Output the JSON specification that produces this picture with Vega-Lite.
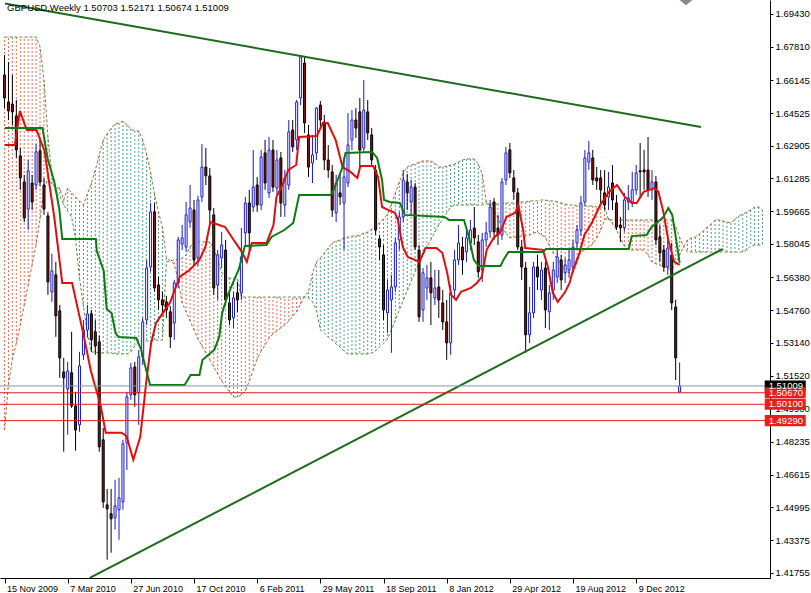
{
"$schema":"https://vega.github.io/schema/vega-lite/v6.json",
"width":770,"height":578,
"autosize":{"type":"none"},
"padding":{"left":0,"top":0,"right":41,"bottom":15},
"background":"white",
"config":{"view":{"stroke":null},"font":"Liberation Sans","axis":{"labelOverlap":false,"labelBound":false,"labelFlush":false,"grid":false,"title":null}},
"datasets":{
"candles":[
{"w":0,"o":1.6641,"h":1.6740,"l":1.6477,"c":1.6527},{"w":1,"o":1.6507,"h":1.6705,"l":1.6418,"c":1.6463},{"w":2,"o":1.6497,"h":1.6641,"l":1.6393,"c":1.6458},{"w":3,"o":1.6438,"h":1.6517,"l":1.6230,"c":1.6270},{"w":4,"o":1.6240,"h":1.6279,"l":1.6072,"c":1.6131},{"w":5,"o":1.6111,"h":1.6146,"l":1.5913,"c":1.5933},{"w":6,"o":1.5977,"h":1.6220,"l":1.5874,"c":1.6166},{"w":7,"o":1.6106,"h":1.6146,"l":1.5972,"c":1.6012},{"w":8,"o":1.6096,"h":1.6299,"l":1.6072,"c":1.6260},{"w":9,"o":1.6265,"h":1.6319,"l":1.6091,"c":1.6111},
{"w":10,"o":1.6096,"h":1.6131,"l":1.5948,"c":1.5977},{"w":11,"o":1.5943,"h":1.5963,"l":1.5552,"c":1.5616},{"w":12,"o":1.5567,"h":1.5755,"l":1.5517,"c":1.5671},{"w":13,"o":1.5651,"h":1.5715,"l":1.5344,"c":1.5448},{"w":14,"o":1.5473,"h":1.5502,"l":1.5141,"c":1.5240},{"w":15,"o":1.5170,"h":1.5240,"l":1.4775,"c":1.5141},{"w":16,"o":1.5086,"h":1.5220,"l":1.4859,"c":1.5175},{"w":17,"o":1.5166,"h":1.5369,"l":1.4992,"c":1.5002},{"w":18,"o":1.5002,"h":1.5072,"l":1.4780,"c":1.4883},{"w":19,"o":1.4908,"h":1.5270,"l":1.4874,"c":1.5200},
{"w":20,"o":1.5255,"h":1.5428,"l":1.5230,"c":1.5378},{"w":21,"o":1.5378,"h":1.5502,"l":1.5339,"c":1.5458},{"w":22,"o":1.5458,"h":1.5477,"l":1.5270,"c":1.5329},{"w":23,"o":1.5369,"h":1.5428,"l":1.5255,"c":1.5299},{"w":24,"o":1.5319,"h":1.5349,"l":1.4775,"c":1.4799},{"w":25,"o":1.4834,"h":1.4893,"l":1.4497,"c":1.4527},{"w":26,"o":1.4512,"h":1.4591,"l":1.4240,"c":1.4492},{"w":27,"o":1.4468,"h":1.4591,"l":1.4275,"c":1.4443},{"w":28,"o":1.4448,"h":1.4636,"l":1.4389,"c":1.4507},{"w":29,"o":1.4488,"h":1.4646,"l":1.4339,"c":1.4547},
{"w":30,"o":1.4527,"h":1.4834,"l":1.4488,"c":1.4814},{"w":31,"o":1.4819,"h":1.5072,"l":1.4685,"c":1.5047},{"w":32,"o":1.5057,"h":1.5215,"l":1.5032,"c":1.5190},{"w":33,"o":1.5195,"h":1.5220,"l":1.4997,"c":1.5057},{"w":34,"o":1.5067,"h":1.5279,"l":1.4908,"c":1.5245},{"w":35,"o":1.5245,"h":1.5438,"l":1.5205,"c":1.5418},{"w":36,"o":1.5428,"h":1.5725,"l":1.5403,"c":1.5685},{"w":37,"o":1.5690,"h":1.6007,"l":1.5666,"c":1.5963},{"w":38,"o":1.5963,"h":1.6007,"l":1.5567,"c":1.5586},{"w":39,"o":1.5601,"h":1.5641,"l":1.5477,"c":1.5527},
{"w":40,"o":1.5527,"h":1.5567,"l":1.5458,"c":1.5502},{"w":41,"o":1.5517,"h":1.5547,"l":1.5438,"c":1.5477},{"w":42,"o":1.5468,"h":1.5497,"l":1.5289,"c":1.5344},{"w":43,"o":1.5413,"h":1.5626,"l":1.5329,"c":1.5611},{"w":44,"o":1.5611,"h":1.5839,"l":1.5586,"c":1.5824},{"w":45,"o":1.5804,"h":1.5898,"l":1.5774,"c":1.5834},{"w":46,"o":1.5789,"h":1.6012,"l":1.5765,"c":1.5948},{"w":47,"o":1.5913,"h":1.6096,"l":1.5884,"c":1.5982},{"w":48,"o":1.5972,"h":1.6022,"l":1.5695,"c":1.5725},{"w":49,"o":1.5735,"h":1.6042,"l":1.5695,"c":1.6022},
{"w":50,"o":1.6037,"h":1.6299,"l":1.6012,"c":1.6185},{"w":51,"o":1.6185,"h":1.6279,"l":1.6096,"c":1.6141},{"w":52,"o":1.6141,"h":1.6180,"l":1.5913,"c":1.5972},{"w":53,"o":1.5948,"h":1.5982,"l":1.5552,"c":1.5586},{"w":54,"o":1.5601,"h":1.5774,"l":1.5527,"c":1.5750},{"w":55,"o":1.5735,"h":1.5863,"l":1.5685,"c":1.5799},{"w":56,"o":1.5774,"h":1.5824,"l":1.5502,"c":1.5527},{"w":57,"o":1.5512,"h":1.5576,"l":1.5403,"c":1.5428},{"w":58,"o":1.5438,"h":1.5567,"l":1.5388,"c":1.5537},{"w":59,"o":1.5562,"h":1.5616,"l":1.5468,"c":1.5527},
{"w":60,"o":1.5562,"h":1.5883,"l":1.5527,"c":1.5740},{"w":61,"o":1.5859,"h":1.6037,"l":1.5799,"c":1.6007},{"w":62,"o":1.6007,"h":1.6072,"l":1.5760,"c":1.5859},{"w":63,"o":1.5987,"h":1.6269,"l":1.5963,"c":1.6086},{"w":64,"o":1.6096,"h":1.6136,"l":1.5963,"c":1.5997},{"w":65,"o":1.5997,"h":1.6269,"l":1.5972,"c":1.6235},{"w":66,"o":1.6255,"h":1.6319,"l":1.6072,"c":1.6106},{"w":67,"o":1.6057,"h":1.6334,"l":1.6032,"c":1.6269},{"w":68,"o":1.6269,"h":1.6319,"l":1.6062,"c":1.6086},{"w":69,"o":1.6081,"h":1.6269,"l":1.6047,"c":1.6220},
{"w":70,"o":1.6230,"h":1.6260,"l":1.5938,"c":1.6007},{"w":71,"o":1.5997,"h":1.6170,"l":1.5938,"c":1.6131},{"w":72,"o":1.6096,"h":1.6418,"l":1.6072,"c":1.6359},{"w":73,"o":1.6368,"h":1.6418,"l":1.6260,"c":1.6285},{"w":74,"o":1.6319,"h":1.6517,"l":1.6269,"c":1.6507},{"w":75,"o":1.6527,"h":1.6740,"l":1.6492,"c":1.6730},{"w":76,"o":1.6700,"h":1.6730,"l":1.6354,"c":1.6403},{"w":77,"o":1.6344,"h":1.6393,"l":1.6136,"c":1.6185},{"w":78,"o":1.6205,"h":1.6344,"l":1.6106,"c":1.6245},{"w":79,"o":1.6255,"h":1.6482,"l":1.6220,"c":1.6477},
{"w":80,"o":1.6492,"h":1.6512,"l":1.6383,"c":1.6418},{"w":81,"o":1.6408,"h":1.6443,"l":1.6170,"c":1.6220},{"w":82,"o":1.6220,"h":1.6294,"l":1.6131,"c":1.6170},{"w":83,"o":1.6161,"h":1.6195,"l":1.5938,"c":1.5972},{"w":84,"o":1.5958,"h":1.6146,"l":1.5913,"c":1.6106},{"w":85,"o":1.6057,"h":1.6146,"l":1.5997,"c":1.6037},{"w":86,"o":1.6007,"h":1.6235,"l":1.5774,"c":1.6136},{"w":87,"o":1.6106,"h":1.6453,"l":1.6086,"c":1.6294},{"w":88,"o":1.6319,"h":1.6467,"l":1.6269,"c":1.6418},{"w":89,"o":1.6418,"h":1.6477,"l":1.6329,"c":1.6378},
{"w":90,"o":1.6458,"h":1.6527,"l":1.6180,"c":1.6269},{"w":91,"o":1.6279,"h":1.6616,"l":1.6260,"c":1.6467},{"w":92,"o":1.6458,"h":1.6517,"l":1.6319,"c":1.6354},{"w":93,"o":1.6344,"h":1.6378,"l":1.6195,"c":1.6220},{"w":94,"o":1.6170,"h":1.6195,"l":1.5849,"c":1.5873},{"w":95,"o":1.5829,"h":1.5849,"l":1.5725,"c":1.5789},{"w":96,"o":1.5750,"h":1.5799,"l":1.5428,"c":1.5477},{"w":97,"o":1.5463,"h":1.5626,"l":1.5364,"c":1.5576},{"w":98,"o":1.5527,"h":1.5651,"l":1.5265,"c":1.5591},{"w":99,"o":1.5591,"h":1.5834,"l":1.5567,"c":1.5809},
{"w":100,"o":1.5824,"h":1.5963,"l":1.5774,"c":1.5938},{"w":101,"o":1.5938,"h":1.6170,"l":1.5913,"c":1.6121},{"w":102,"o":1.6111,"h":1.6151,"l":1.5972,"c":1.6057},{"w":103,"o":1.6012,"h":1.6121,"l":1.5948,"c":1.6086},{"w":104,"o":1.6086,"h":1.6106,"l":1.5774,"c":1.5789},{"w":105,"o":1.5774,"h":1.5799,"l":1.5418,"c":1.5443},{"w":106,"o":1.5477,"h":1.5685,"l":1.5418,"c":1.5661},{"w":107,"o":1.5586,"h":1.5700,"l":1.5527,"c":1.5636},{"w":108,"o":1.5636,"h":1.5715,"l":1.5403,"c":1.5562},{"w":109,"o":1.5537,"h":1.5675,"l":1.5502,"c":1.5586},
{"w":110,"o":1.5591,"h":1.5675,"l":1.5438,"c":1.5527},{"w":111,"o":1.5512,"h":1.5576,"l":1.5378,"c":1.5418},{"w":112,"o":1.5418,"h":1.5527,"l":1.5230,"c":1.5314},{"w":113,"o":1.5314,"h":1.5601,"l":1.5255,"c":1.5562},{"w":114,"o":1.5576,"h":1.5774,"l":1.5537,"c":1.5725},{"w":115,"o":1.5725,"h":1.5898,"l":1.5700,"c":1.5809},{"w":116,"o":1.5789,"h":1.5839,"l":1.5651,"c":1.5725},{"w":117,"o":1.5765,"h":1.5873,"l":1.5715,"c":1.5834},{"w":118,"o":1.5809,"h":1.5923,"l":1.5774,"c":1.5873},{"w":119,"o":1.5883,"h":1.5987,"l":1.5799,"c":1.5834},
{"w":120,"o":1.5814,"h":1.5849,"l":1.5636,"c":1.5666},{"w":121,"o":1.5675,"h":1.5859,"l":1.5616,"c":1.5824},{"w":122,"o":1.5824,"h":1.5913,"l":1.5789,"c":1.5859},{"w":123,"o":1.5864,"h":1.6022,"l":1.5834,"c":1.5987},{"w":124,"o":1.6012,"h":1.6032,"l":1.5824,"c":1.5864},{"w":125,"o":1.5883,"h":1.5948,"l":1.5799,"c":1.5849},{"w":126,"o":1.5849,"h":1.6131,"l":1.5824,"c":1.6111},{"w":127,"o":1.6121,"h":1.6284,"l":1.6096,"c":1.6255},{"w":128,"o":1.6270,"h":1.6304,"l":1.6131,"c":1.6156},{"w":129,"o":1.6131,"h":1.6170,"l":1.6022,"c":1.6062},
{"w":130,"o":1.6057,"h":1.6081,"l":1.5774,"c":1.5789},{"w":131,"o":1.5789,"h":1.5824,"l":1.5626,"c":1.5690},{"w":132,"o":1.5685,"h":1.5715,"l":1.5265,"c":1.5354},{"w":133,"o":1.5354,"h":1.5591,"l":1.5314,"c":1.5463},{"w":134,"o":1.5463,"h":1.5715,"l":1.5438,"c":1.5690},{"w":135,"o":1.5690,"h":1.5750,"l":1.5576,"c":1.5641},{"w":136,"o":1.5576,"h":1.5715,"l":1.5527,"c":1.5675},{"w":137,"o":1.5685,"h":1.5715,"l":1.5388,"c":1.5477},{"w":138,"o":1.5468,"h":1.5601,"l":1.5378,"c":1.5562},{"w":139,"o":1.5576,"h":1.5715,"l":1.5527,"c":1.5675},
{"w":140,"o":1.5641,"h":1.5774,"l":1.5611,"c":1.5740},{"w":141,"o":1.5725,"h":1.5750,"l":1.5576,"c":1.5626},{"w":142,"o":1.5661,"h":1.5735,"l":1.5611,"c":1.5700},{"w":143,"o":1.5675,"h":1.5784,"l":1.5636,"c":1.5725},{"w":144,"o":1.5690,"h":1.5824,"l":1.5666,"c":1.5789},{"w":145,"o":1.5809,"h":1.5898,"l":1.5774,"c":1.5873},{"w":146,"o":1.5873,"h":1.6042,"l":1.5844,"c":1.6007},{"w":147,"o":1.6012,"h":1.6270,"l":1.5992,"c":1.6230},{"w":148,"o":1.6210,"h":1.6314,"l":1.6171,"c":1.6255},{"w":149,"o":1.6230,"h":1.6270,"l":1.6096,"c":1.6121},
{"w":150,"o":1.6131,"h":1.6185,"l":1.6072,"c":1.6116},{"w":151,"o":1.6131,"h":1.6170,"l":1.5997,"c":1.6072},{"w":152,"o":1.6057,"h":1.6170,"l":1.5972,"c":1.5997},{"w":153,"o":1.6037,"h":1.6161,"l":1.5972,"c":1.6086},{"w":154,"o":1.6106,"h":1.6195,"l":1.5972,"c":1.6022},{"w":155,"o":1.6007,"h":1.6047,"l":1.5873,"c":1.5888},{"w":156,"o":1.5898,"h":1.5938,"l":1.5814,"c":1.5884},{"w":157,"o":1.5884,"h":1.6057,"l":1.5864,"c":1.6022},{"w":158,"o":1.6012,"h":1.6096,"l":1.5972,"c":1.6032},{"w":159,"o":1.6012,"h":1.6161,"l":1.5987,"c":1.6072},
{"w":160,"o":1.6072,"h":1.6195,"l":1.6047,"c":1.6156},{"w":161,"o":1.6166,"h":1.6304,"l":1.6037,"c":1.6161},{"w":162,"o":1.6170,"h":1.6270,"l":1.6072,"c":1.6161},{"w":163,"o":1.6170,"h":1.6334,"l":1.6037,"c":1.6072},{"w":164,"o":1.6072,"h":1.6170,"l":1.6022,"c":1.6111},{"w":165,"o":1.6111,"h":1.6141,"l":1.5799,"c":1.5824},{"w":166,"o":1.5839,"h":1.5898,"l":1.5715,"c":1.5760},{"w":167,"o":1.5774,"h":1.5799,"l":1.5666,"c":1.5690},{"w":168,"o":1.5690,"h":1.5824,"l":1.5651,"c":1.5784},{"w":169,"o":1.5749,"h":1.5809,"l":1.5477,"c":1.5512},
{"w":170,"o":1.5492,"h":1.5527,"l":1.5130,"c":1.5240},{"w":171,"o":1.50703,"h":1.52171,"l":1.50674,"c":1.51009}
],
"cloud":[
{"w":0,"a":1.4883,"b":1.6829},{"w":1,"a":1.5110,"b":1.6829},{"w":2,"a":1.5234,"b":1.6829},{"w":3,"a":1.5313,"b":1.6829},{"w":4,"a":1.5403,"b":1.6829},{"w":5,"a":1.5502,"b":1.6829},{"w":6,"a":1.5601,"b":1.6829},{"w":7,"a":1.5700,"b":1.6829},{"w":8,"a":1.5799,"b":1.6829},{"w":9,"a":1.5928,"b":1.6780},
{"w":10,"a":1.6071,"b":1.6616},{"w":11,"a":1.6131,"b":1.6334},{"w":12,"a":1.6101,"b":1.6146},{"w":13,"a":1.6081,"b":1.6056},{"w":14,"a":1.6081,"b":1.6042},{"w":15,"a":1.6022,"b":1.5997},{"w":16,"a":1.6081,"b":1.5967},{"w":17,"a":1.6056,"b":1.5938},{"w":18,"a":1.6037,"b":1.5829},{"w":19,"a":1.6017,"b":1.5635},
{"w":20,"a":1.5997,"b":1.5492},{"w":21,"a":1.6051,"b":1.5363},{"w":22,"a":1.6106,"b":1.5269},{"w":23,"a":1.6170,"b":1.5269},{"w":24,"a":1.6245,"b":1.5264},{"w":25,"a":1.6319,"b":1.5264},{"w":26,"a":1.6349,"b":1.5264},{"w":27,"a":1.6378,"b":1.5264},{"w":28,"a":1.6398,"b":1.5259},{"w":29,"a":1.6403,"b":1.5259},
{"w":30,"a":1.6413,"b":1.5259},{"w":31,"a":1.6393,"b":1.5259},{"w":32,"a":1.6373,"b":1.5269},{"w":33,"a":1.6364,"b":1.5299},{"w":34,"a":1.6364,"b":1.5318},{"w":35,"a":1.6319,"b":1.5323},{"w":36,"a":1.6250,"b":1.5323},{"w":37,"a":1.6160,"b":1.5323},{"w":38,"a":1.6051,"b":1.5328},{"w":39,"a":1.5962,"b":1.5328},
{"w":40,"a":1.5888,"b":1.5328},{"w":41,"a":1.5734,"b":1.5715},{"w":42,"a":1.5720,"b":1.5720},{"w":43,"a":1.5705,"b":1.5725},{"w":44,"a":1.5621,"b":1.5729},{"w":45,"a":1.5512,"b":1.5734},{"w":46,"a":1.5467,"b":1.5749},{"w":47,"a":1.5422,"b":1.5789},{"w":48,"a":1.5378,"b":1.5814},{"w":49,"a":1.5333,"b":1.5814},
{"w":50,"a":1.5299,"b":1.5814},{"w":51,"a":1.5264,"b":1.5814},{"w":52,"a":1.5229,"b":1.5814},{"w":53,"a":1.5195,"b":1.5784},{"w":54,"a":1.5160,"b":1.5725},{"w":55,"a":1.5125,"b":1.5665},{"w":56,"a":1.5096,"b":1.5635},{"w":57,"a":1.5071,"b":1.5635},{"w":58,"a":1.5046,"b":1.5635},{"w":59,"a":1.5046,"b":1.5635},
{"w":60,"a":1.5056,"b":1.5541},{"w":61,"a":1.5076,"b":1.5541},{"w":62,"a":1.5125,"b":1.5541},{"w":63,"a":1.5180,"b":1.5541},{"w":64,"a":1.5234,"b":1.5541},{"w":65,"a":1.5274,"b":1.5541},{"w":66,"a":1.5304,"b":1.5541},{"w":67,"a":1.5338,"b":1.5541},{"w":68,"a":1.5358,"b":1.5541},{"w":69,"a":1.5373,"b":1.5541},
{"w":70,"a":1.5388,"b":1.5541},{"w":71,"a":1.5403,"b":1.5541},{"w":72,"a":1.5422,"b":1.5541},{"w":73,"a":1.5447,"b":1.5541},{"w":74,"a":1.5467,"b":1.5541},{"w":75,"a":1.5507,"b":1.5541},{"w":76,"a":1.5546,"b":1.5541},{"w":77,"a":1.5566,"b":1.5536},{"w":78,"a":1.5660,"b":1.5517},{"w":79,"a":1.5715,"b":1.5477},
{"w":80,"a":1.5734,"b":1.5378},{"w":81,"a":1.5759,"b":1.5363},{"w":82,"a":1.5784,"b":1.5343},{"w":83,"a":1.5809,"b":1.5328},{"w":84,"a":1.5819,"b":1.5308},{"w":85,"a":1.5824,"b":1.5294},{"w":86,"a":1.5834,"b":1.5274},{"w":87,"a":1.5838,"b":1.5259},{"w":88,"a":1.5843,"b":1.5259},{"w":89,"a":1.5843,"b":1.5259},
{"w":90,"a":1.5848,"b":1.5259},{"w":91,"a":1.5858,"b":1.5259},{"w":92,"a":1.5863,"b":1.5259},{"w":93,"a":1.5878,"b":1.5264},{"w":94,"a":1.5893,"b":1.5274},{"w":95,"a":1.5908,"b":1.5294},{"w":96,"a":1.5928,"b":1.5313},{"w":97,"a":1.5952,"b":1.5333},{"w":98,"a":1.6002,"b":1.5378},{"w":99,"a":1.6056,"b":1.5427},
{"w":100,"a":1.6111,"b":1.5477},{"w":101,"a":1.6155,"b":1.5526},{"w":102,"a":1.6185,"b":1.5571},{"w":103,"a":1.6195,"b":1.5621},{"w":104,"a":1.6200,"b":1.5665},{"w":105,"a":1.6210,"b":1.5715},{"w":106,"a":1.6215,"b":1.5749},{"w":107,"a":1.6215,"b":1.5789},{"w":108,"a":1.6215,"b":1.5824},{"w":109,"a":1.6205,"b":1.5863},
{"w":110,"a":1.6185,"b":1.5898},{"w":111,"a":1.6185,"b":1.5928},{"w":112,"a":1.6190,"b":1.5957},{"w":113,"a":1.6195,"b":1.5987},{"w":114,"a":1.6200,"b":1.5997},{"w":115,"a":1.6210,"b":1.5997},{"w":116,"a":1.6220,"b":1.5997},{"w":117,"a":1.6225,"b":1.5997},{"w":118,"a":1.6225,"b":1.5997},{"w":119,"a":1.6225,"b":1.5997},
{"w":120,"a":1.6200,"b":1.5997},{"w":121,"a":1.6151,"b":1.5997},{"w":122,"a":1.6017,"b":1.6002},{"w":123,"a":1.5992,"b":1.6002},{"w":124,"a":1.5967,"b":1.6002},{"w":125,"a":1.5933,"b":1.6002},{"w":126,"a":1.5883,"b":1.6002},{"w":127,"a":1.5858,"b":1.6007},{"w":128,"a":1.5834,"b":1.6007},{"w":129,"a":1.5838,"b":1.6007},
{"w":130,"a":1.5838,"b":1.6012},{"w":131,"a":1.5843,"b":1.6012},{"w":132,"a":1.5843,"b":1.6012},{"w":133,"a":1.5848,"b":1.6017},{"w":134,"a":1.5858,"b":1.6017},{"w":135,"a":1.5863,"b":1.6017},{"w":136,"a":1.5848,"b":1.6022},{"w":137,"a":1.5838,"b":1.6022},{"w":138,"a":1.5794,"b":1.6017},{"w":139,"a":1.5759,"b":1.6017},
{"w":140,"a":1.5729,"b":1.6012},{"w":141,"a":1.5700,"b":1.6007},{"w":142,"a":1.5675,"b":1.6002},{"w":143,"a":1.5660,"b":1.5997},{"w":144,"a":1.5660,"b":1.5997},{"w":145,"a":1.5710,"b":1.5992},{"w":146,"a":1.5764,"b":1.5992},{"w":147,"a":1.5774,"b":1.5992},{"w":148,"a":1.5789,"b":1.5992},{"w":149,"a":1.5804,"b":1.5992},
{"w":150,"a":1.5834,"b":1.5987},{"w":151,"a":1.5873,"b":1.5987},{"w":152,"a":1.5923,"b":1.5987},{"w":153,"a":1.5933,"b":1.5923},{"w":154,"a":1.5903,"b":1.5923},{"w":155,"a":1.5873,"b":1.5923},{"w":156,"a":1.5834,"b":1.5923},{"w":157,"a":1.5794,"b":1.5923},{"w":158,"a":1.5774,"b":1.5923},{"w":159,"a":1.5774,"b":1.5923},
{"w":160,"a":1.5774,"b":1.5923},{"w":161,"a":1.5774,"b":1.5923},{"w":162,"a":1.5774,"b":1.5923},{"w":163,"a":1.5749,"b":1.5923},{"w":164,"a":1.5715,"b":1.5923},{"w":165,"a":1.5705,"b":1.5923},{"w":166,"a":1.5700,"b":1.5923},{"w":167,"a":1.5690,"b":1.5923},{"w":168,"a":1.5685,"b":1.5923},{"w":169,"a":1.5675,"b":1.5923},
{"w":170,"a":1.5705,"b":1.5888},{"w":171,"a":1.5749,"b":1.5838},{"w":172,"a":1.5789,"b":1.5789},{"w":173,"a":1.5824,"b":1.5764},{"w":174,"a":1.5834,"b":1.5764},{"w":175,"a":1.5838,"b":1.5764},{"w":176,"a":1.5853,"b":1.5764},{"w":177,"a":1.5868,"b":1.5764},{"w":178,"a":1.5888,"b":1.5764},{"w":179,"a":1.5903,"b":1.5764},
{"w":180,"a":1.5923,"b":1.5764},{"w":181,"a":1.5923,"b":1.5764},{"w":182,"a":1.5918,"b":1.5764},{"w":183,"a":1.5913,"b":1.5764},{"w":184,"a":1.5908,"b":1.5764},{"w":185,"a":1.5928,"b":1.5764},{"w":186,"a":1.5943,"b":1.5764},{"w":187,"a":1.5952,"b":1.5764},{"w":188,"a":1.5962,"b":1.5774},{"w":189,"a":1.5972,"b":1.5794},
{"w":190,"a":1.5987,"b":1.5799},{"w":191,"a":1.5987,"b":1.5799},{"w":192,"a":1.5972,"b":1.5799}
],
"tenkan":[
{"w":0.13,"p":1.6294},{"w":2.63,"p":1.6294},{"w":3.88,"p":1.6463},{"w":5.63,"p":1.6368},{"w":8.13,"p":1.6368},{"w":10.13,"p":1.6265},{"w":12.63,"p":1.5933},{"w":14.63,"p":1.5611},{"w":17.13,"p":1.5611},{"w":20.13,"p":1.5344},{"w":21.88,"p":1.5175},{"w":24.38,"p":1.5002},{"w":25.63,"p":1.4869},{"w":29.63,"p":1.4869},{"w":30.88,"p":1.4854},{"w":32.63,"p":1.4735},{"w":34.38,"p":1.4849},{"w":35.88,"p":1.5116},{"w":37.13,"p":1.5314},{"w":38.38,"p":1.5413},{"w":40.13,"p":1.5463},{"w":41.88,"p":1.5512},{"w":43.13,"p":1.5576},{"w":44.38,"p":1.5641},{"w":46.88,"p":1.5675},{"w":49.38,"p":1.5725},{"w":50.88,"p":1.5789},{"w":52.13,"p":1.5913},{"w":54.38,"p":1.5898},{"w":55.88,"p":1.5888},{"w":58.38,"p":1.5814},{"w":60.13,"p":1.5765},{"w":61.38,"p":1.5715},{"w":62.63,"p":1.5809},{"w":66.38,"p":1.5809},{"w":68.13,"p":1.5898},{"w":68.88,"p":1.6037},{"w":70.63,"p":1.6106},{"w":71.88,"p":1.6171},{"w":73.88,"p":1.6195},{"w":74.63,"p":1.6334},{"w":79.13,"p":1.6339},{"w":80.63,"p":1.6403},{"w":81.88,"p":1.6403},{"w":83.88,"p":1.6319},{"w":85.63,"p":1.6185},{"w":87.63,"p":1.6161},{"w":89.38,"p":1.6131},{"w":90.13,"p":1.6190},{"w":93.38,"p":1.6190},{"w":94.63,"p":1.6136},{"w":95.63,"p":1.5987},{"w":97.13,"p":1.5973},{"w":98.88,"p":1.5958},{"w":99.63,"p":1.5923},{"w":100.88,"p":1.5789},{"w":102.13,"p":1.5740},{"w":105.13,"p":1.5715},{"w":106.63,"p":1.5784},{"w":109.38,"p":1.5784},{"w":110.88,"p":1.5760},{"w":112.13,"p":1.5661},{"w":113.13,"p":1.5552},{"w":114.38,"p":1.5527},{"w":115.63,"p":1.5567},{"w":118.13,"p":1.5586},{"w":119.63,"p":1.5611},{"w":120.88,"p":1.5641},{"w":122.13,"p":1.5775},{"w":123.88,"p":1.5834},{"w":125.63,"p":1.5864},{"w":127.13,"p":1.5938},{"w":129.38,"p":1.5958},{"w":130.13,"p":1.5997},{"w":131.38,"p":1.5873},{"w":131.88,"p":1.5784},{"w":136.38,"p":1.5775},{"w":137.63,"p":1.5690},{"w":138.88,"p":1.5562},{"w":140.13,"p":1.5517},{"w":141.88,"p":1.5562},{"w":143.13,"p":1.5611},{"w":143.88,"p":1.5666},{"w":145.63,"p":1.5760},{"w":146.88,"p":1.5849},{"w":148.88,"p":1.5913},{"w":150.88,"p":1.5997},{"w":153.13,"p":1.6062},{"w":155.13,"p":1.6096},{"w":157.13,"p":1.6037},{"w":158.88,"p":1.6007},{"w":160.13,"p":1.6007},{"w":161.88,"p":1.6062},{"w":164.63,"p":1.6081},{"w":165.63,"p":1.6062},{"w":166.88,"p":1.5963},{"w":168.13,"p":1.5824},{"w":169.63,"p":1.5715},{"w":171,"p":1.5700}
],
"kijun":[
{"w":0.13,"p":1.6378},{"w":9.63,"p":1.6378},{"w":10.88,"p":1.6230},{"w":12.63,"p":1.6111},{"w":13.88,"p":1.5977},{"w":14.63,"p":1.5829},{"w":23.13,"p":1.5829},{"w":23.38,"p":1.5769},{"w":25.13,"p":1.5670},{"w":25.88,"p":1.5482},{"w":27.13,"p":1.5462},{"w":28.13,"p":1.5363},{"w":28.88,"p":1.5343},{"w":33.38,"p":1.5338},{"w":34.63,"p":1.5279},{"w":35.88,"p":1.5180},{"w":36.88,"p":1.5106},{"w":45.63,"p":1.5106},{"w":47.13,"p":1.5155},{"w":49.38,"p":1.5155},{"w":50.13,"p":1.5229},{"w":51.88,"p":1.5259},{"w":53.13,"p":1.5279},{"w":54.38,"p":1.5343},{"w":55.13,"p":1.5462},{"w":56.38,"p":1.5541},{"w":57.63,"p":1.5601},{"w":59.38,"p":1.5680},{"w":60.88,"p":1.5794},{"w":66.38,"p":1.5799},{"w":67.63,"p":1.5839},{"w":70.88,"p":1.5873},{"w":73.13,"p":1.5908},{"w":74.63,"p":1.6047},{"w":82.63,"p":1.6047},{"w":83.38,"p":1.6071},{"w":85.63,"p":1.6185},{"w":86.38,"p":1.6255},{"w":93.13,"p":1.6260},{"w":94.38,"p":1.6230},{"w":95.63,"p":1.6121},{"w":96.13,"p":1.6022},{"w":97.63,"p":1.6012},{"w":100.13,"p":1.6007},{"w":101.38,"p":1.5948},{"w":111.38,"p":1.5938},{"w":112.63,"p":1.5923},{"w":116.38,"p":1.5923},{"w":117.63,"p":1.5839},{"w":118.88,"p":1.5725},{"w":120.13,"p":1.5695},{"w":125.63,"p":1.5695},{"w":126.38,"p":1.5725},{"w":127.63,"p":1.5764},{"w":136.38,"p":1.5764},{"w":137.13,"p":1.5779},{"w":158.13,"p":1.5779},{"w":158.88,"p":1.5843},{"w":162.63,"p":1.5848},{"w":163.88,"p":1.5888},{"w":165.13,"p":1.5907},{"w":166.88,"p":1.5937},{"w":168.13,"p":1.5982},{"w":169.13,"p":1.5948},{"w":170.13,"p":1.5824},{"w":171,"p":1.5710}
],
"trend":[
{"id":"upper","w":0.125,"p":1.6995},{"id":"upper","w":176.4,"p":1.6383},
{"id":"lower","w":21.6,"p":1.4150},{"id":"lower","w":181.9,"p":1.5779}
],
"hlines":[
{"p":1.51009,"k":"bid"},{"p":1.5067,"k":"level"},{"p":1.5010,"k":"level"},{"p":1.4929,"k":"level"}
]
},
"layer":[
{"data":{"name":"cloud"},
 "mark":{"type":"rule","strokeDash":[2,2],"strokeWidth":1,"clip":true},
 "encoding":{
  "x":{"field":"w","type":"quantitative","scale":{"domain":[0.125,192.625],"nice":false,"zero":false},
   "axis":{"orient":"bottom","values":[0,16,32,48,64,80,96,112,128,144,160],"tickCount":40,"labelExpr":"utcFormat(utc(2009,10,15)+datum.value*604800000,'%-d %b %Y')","labelAlign":"left","labelOffset":2,"labelPadding":1,"labelFontSize":9,"labelFont":"Liberation Sans","labelColor":"#000000","tickSize":5,"tickColor":"#000000","domainColor":"#000000","grid":false,"title":null,"labelFlush":false,"labelOverlap":false,"labelBound":false}},
  "y":{"field":"a","type":"quantitative","scale":{"domain":[1.41496,1.70123],"nice":false,"zero":false},
   "axis":{"orient":"right","values":[1.6943,1.6781,1.66145,1.64525,1.62905,1.61285,1.59665,1.58045,1.5638,1.5476,1.5314,1.5152,1.499,1.48235,1.46615,1.44995,1.43375,1.41755],"tickCount":40,"format":".5f","labelAlign":"left","labelBaseline":"middle","labelPadding":2,"labelFontSize":9.5,"labelFont":"Liberation Sans","labelColor":"#000000","tickSize":3,"tickColor":"#000000","domainColor":"#000000","grid":false,"title":null,"labelFlush":false,"labelOverlap":false,"labelBound":false}},
  "y2":{"field":"b"},
  "stroke":{"condition":{"test":"datum.a >= datum.b","value":"#4f9c80"},"value":"#de6a55"}
 }},
{"data":{"name":"cloud"},
 "mark":{"type":"line","stroke":"#b06a3c","strokeWidth":1,"strokeDash":[3,2],"clip":true},
 "encoding":{"x":{"field":"w","type":"quantitative"},"y":{"field":"a","type":"quantitative"}}},
{"data":{"name":"cloud"},
 "mark":{"type":"line","stroke":"#5c8c3c","strokeWidth":1,"strokeDash":[3,2],"clip":true},
 "encoding":{"x":{"field":"w","type":"quantitative"},"y":{"field":"b","type":"quantitative"}}},
{"data":{"name":"candles"},
 "mark":{"type":"rule","strokeWidth":1},
 "encoding":{"x":{"field":"w","type":"quantitative"},"y":{"field":"l","type":"quantitative"},"y2":{"field":"h"},
  "stroke":{"condition":{"test":"datum.c >= datum.o","value":"#1a1acc"},"value":"#000000"}}},
{"data":{"name":"candles"},
 "mark":{"type":"bar","width":2,"strokeWidth":1},
 "encoding":{"x":{"field":"w","type":"quantitative"},"y":{"field":"o","type":"quantitative"},"y2":{"field":"c"},
  "fill":{"condition":{"test":"datum.c >= datum.o","value":"#ffffff"},"value":"#8b1414"},
  "stroke":{"condition":{"test":"datum.c >= datum.o","value":"#1a1acc"},"value":"#000000"}}},
{"data":{"name":"tenkan"},
 "mark":{"type":"line","stroke":"#e00d0d","strokeWidth":2,"clip":true},
 "encoding":{"x":{"field":"w","type":"quantitative"},"y":{"field":"p","type":"quantitative"}}},
{"data":{"name":"kijun"},
 "mark":{"type":"line","stroke":"#0e7a12","strokeWidth":2,"clip":true},
 "encoding":{"x":{"field":"w","type":"quantitative"},"y":{"field":"p","type":"quantitative"}}},
{"data":{"name":"trend"},
 "mark":{"type":"line","stroke":"#1d6b1d","strokeWidth":2,"clip":true},
 "encoding":{"x":{"field":"w","type":"quantitative"},"y":{"field":"p","type":"quantitative"},"detail":{"field":"id"}}},
{"data":{"name":"hlines"},
 "mark":{"type":"rule","strokeWidth":1},
 "encoding":{"y":{"field":"p","type":"quantitative"},
  "stroke":{"condition":{"test":"datum.k == 'bid'","value":"#8397a8"},"value":"#dd1c1c"}}},
{"data":{"name":"hlines"},
 "mark":{"type":"point","shape":"M-1,-0.27L1,-0.27L1,0.27L-1,0.27Z","filled":true,"size":1681,"opacity":1,"strokeWidth":0},
 "encoding":{"x":{"datum":197.75,"type":"quantitative"},"y":{"field":"p","type":"quantitative"},
  "fill":{"condition":{"test":"datum.k == 'bid'","value":"#000000"},"value":"#e81e1e"}}},
{"data":{"name":"hlines"},
 "mark":{"type":"text","align":"left","baseline":"middle","fill":"#ffffff","fontSize":9.5,"font":"Liberation Sans"},
 "encoding":{"x":{"datum":193.55,"type":"quantitative"},"y":{"field":"p","type":"quantitative"},"text":{"field":"p","format":".5f"}}},
{"data":{"values":[{"t":"GBPUSD,Weekly  1.50703 1.52171 1.50674 1.51009"}]},
 "mark":{"type":"text","align":"left","baseline":"middle","fill":"#000000","fontSize":9.5,"font":"Liberation Sans"},
 "encoding":{"x":{"datum":0.65,"type":"quantitative"},"y":{"datum":1.6974,"type":"quantitative"},"text":{"field":"t"}}},
{"data":{"values":[{"m":"shift"}]},
 "mark":{"type":"point","shape":"M-1,0L1,0L0,0.8Z","filled":true,"size":169,"fill":"#8a8a8a","opacity":1,"strokeWidth":0},
 "encoding":{"x":{"datum":172.6,"type":"quantitative"},"y":{"datum":1.70123,"type":"quantitative"}}}
]
}
